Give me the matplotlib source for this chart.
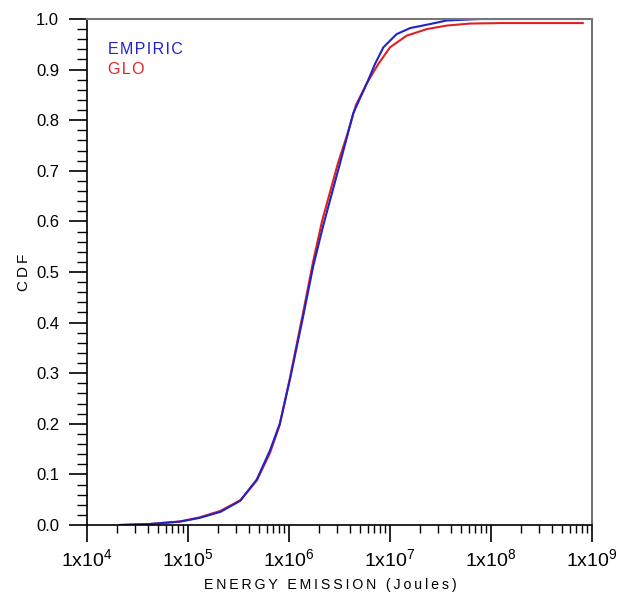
import matplotlib
matplotlib.use('Agg')
import matplotlib.pyplot as plt
from matplotlib.ticker import FuncFormatter, MultipleLocator, LogLocator
import numpy as np

plt.rcParams['font.family'] = ['Liberation Sans', 'DejaVu Sans']
plt.rcParams['mathtext.fontset'] = 'custom'
plt.rcParams['mathtext.rm'] = 'Liberation Sans'
plt.rcParams['mathtext.it'] = 'Liberation Sans'

# --- data ---
empiric_x = [2.1e4, 4.2e4, 8.3e4, 1.3e5, 2.1e5, 3.3e5, 4.8e5, 6.5e5, 8.1e5, 1.02e6,
             1.38e6, 1.73e6, 2.17e6, 2.55e6, 3.2e6, 4.33e6, 5.9e6, 7.1e6, 8.6e6,
             1.16e7, 1.58e7, 2.49e7, 3.64e7, 7.8e7, 8.1e8]
empiric_cdf = [0.0, 0.002, 0.0066, 0.014, 0.026, 0.048, 0.090, 0.148, 0.200, 0.287,
               0.412, 0.510, 0.590, 0.642, 0.715, 0.814, 0.873, 0.911, 0.944,
               0.970, 0.982, 0.990, 0.997, 1.0, 1.0]

glo_x = [2.1e4, 4.2e4, 8.3e4, 1.3e5, 2.1e5, 3.3e5, 4.8e5, 6.5e5, 8.1e5, 1.02e6,
         1.38e6, 1.73e6, 2.12e6, 2.5e6, 3.05e6, 3.75e6, 4.6e6, 5.9e6, 7.66e6,
         1.0e7, 1.46e7, 2.31e7, 3.64e7, 6.2e7, 1.3e8, 8.1e8]
glo_cdf = [0.0, 0.002, 0.007, 0.015, 0.028, 0.049, 0.088, 0.143, 0.198, 0.290,
           0.420, 0.520, 0.600, 0.652, 0.715, 0.770, 0.830, 0.873, 0.911,
           0.944, 0.967, 0.980, 0.987, 0.991, 0.992, 0.992]

x_decades = [4, 5, 6, 7, 8, 9]

blue = '#2222cc'
red = '#dd2222'
sp = '\u2009'
hair = '\u200a'

fig = plt.figure(figsize=(6.2, 5.96), dpi=100)
ax = fig.add_axes([87 / 620, 1 - 525 / 596, 505 / 620, 506 / 596])

ax.plot(glo_x, glo_cdf, color=red, lw=1.5)
ax.plot(empiric_x, empiric_cdf, color=blue, lw=1.5)

ax.set_xscale('log')
ax.set_xlim(10.0 ** x_decades[0], 10.0 ** x_decades[-1])
ax.set_ylim(0, 1)

ax.xaxis.set_major_locator(LogLocator(base=10, numticks=20))
ax.xaxis.set_minor_locator(LogLocator(base=10, subs=np.arange(2, 10), numticks=20))
ax.xaxis.set_major_formatter(FuncFormatter(lambda v, p: r'1x10$^{%d}$' % round(np.log10(v))))
ax.yaxis.set_major_locator(MultipleLocator(0.1))
ax.yaxis.set_minor_locator(MultipleLocator(0.02))
ax.yaxis.set_major_formatter(FuncFormatter(lambda v, p: '%.1f' % v))

ax.tick_params(axis='x', which='major', direction='out', length=12, width=1.2, labelsize=14, pad=5)
ax.tick_params(axis='x', which='minor', direction='out', length=6, width=1.0)
ax.tick_params(axis='y', which='major', direction='out', length=13, width=1.2, labelsize=12, pad=7)
ax.tick_params(axis='y', which='minor', direction='out', length=7, width=1.0)

for s in ['left', 'bottom']:
    ax.spines[s].set_color('black')
    ax.spines[s].set_linewidth(1.2)
ax.spines['top'].set_color('#777777')
ax.spines['top'].set_linewidth(1.5)
ax.spines['right'].set_color('#555555')
ax.spines['right'].set_linewidth(1.2)

ax.set_xlabel(sp.join('ENERGY EMISSION (Joules)'), fontsize=10.2, labelpad=5)
ax.xaxis.set_label_coords(0.481, -0.105, transform=ax.transAxes)
ax.xaxis.label.set_va('top')
ax.set_ylabel(sp.join('CDF'), fontsize=11, labelpad=4)

ax.text(0.0416, 0.931, hair.join('EMPIRIC'), color=blue, fontsize=11.5, transform=ax.transAxes, va='baseline')
ax.text(0.0416, 0.891, hair.join('GLO'), color=red, fontsize=11.5, transform=ax.transAxes, va='baseline')

fig.savefig('out.png', dpi=100)
